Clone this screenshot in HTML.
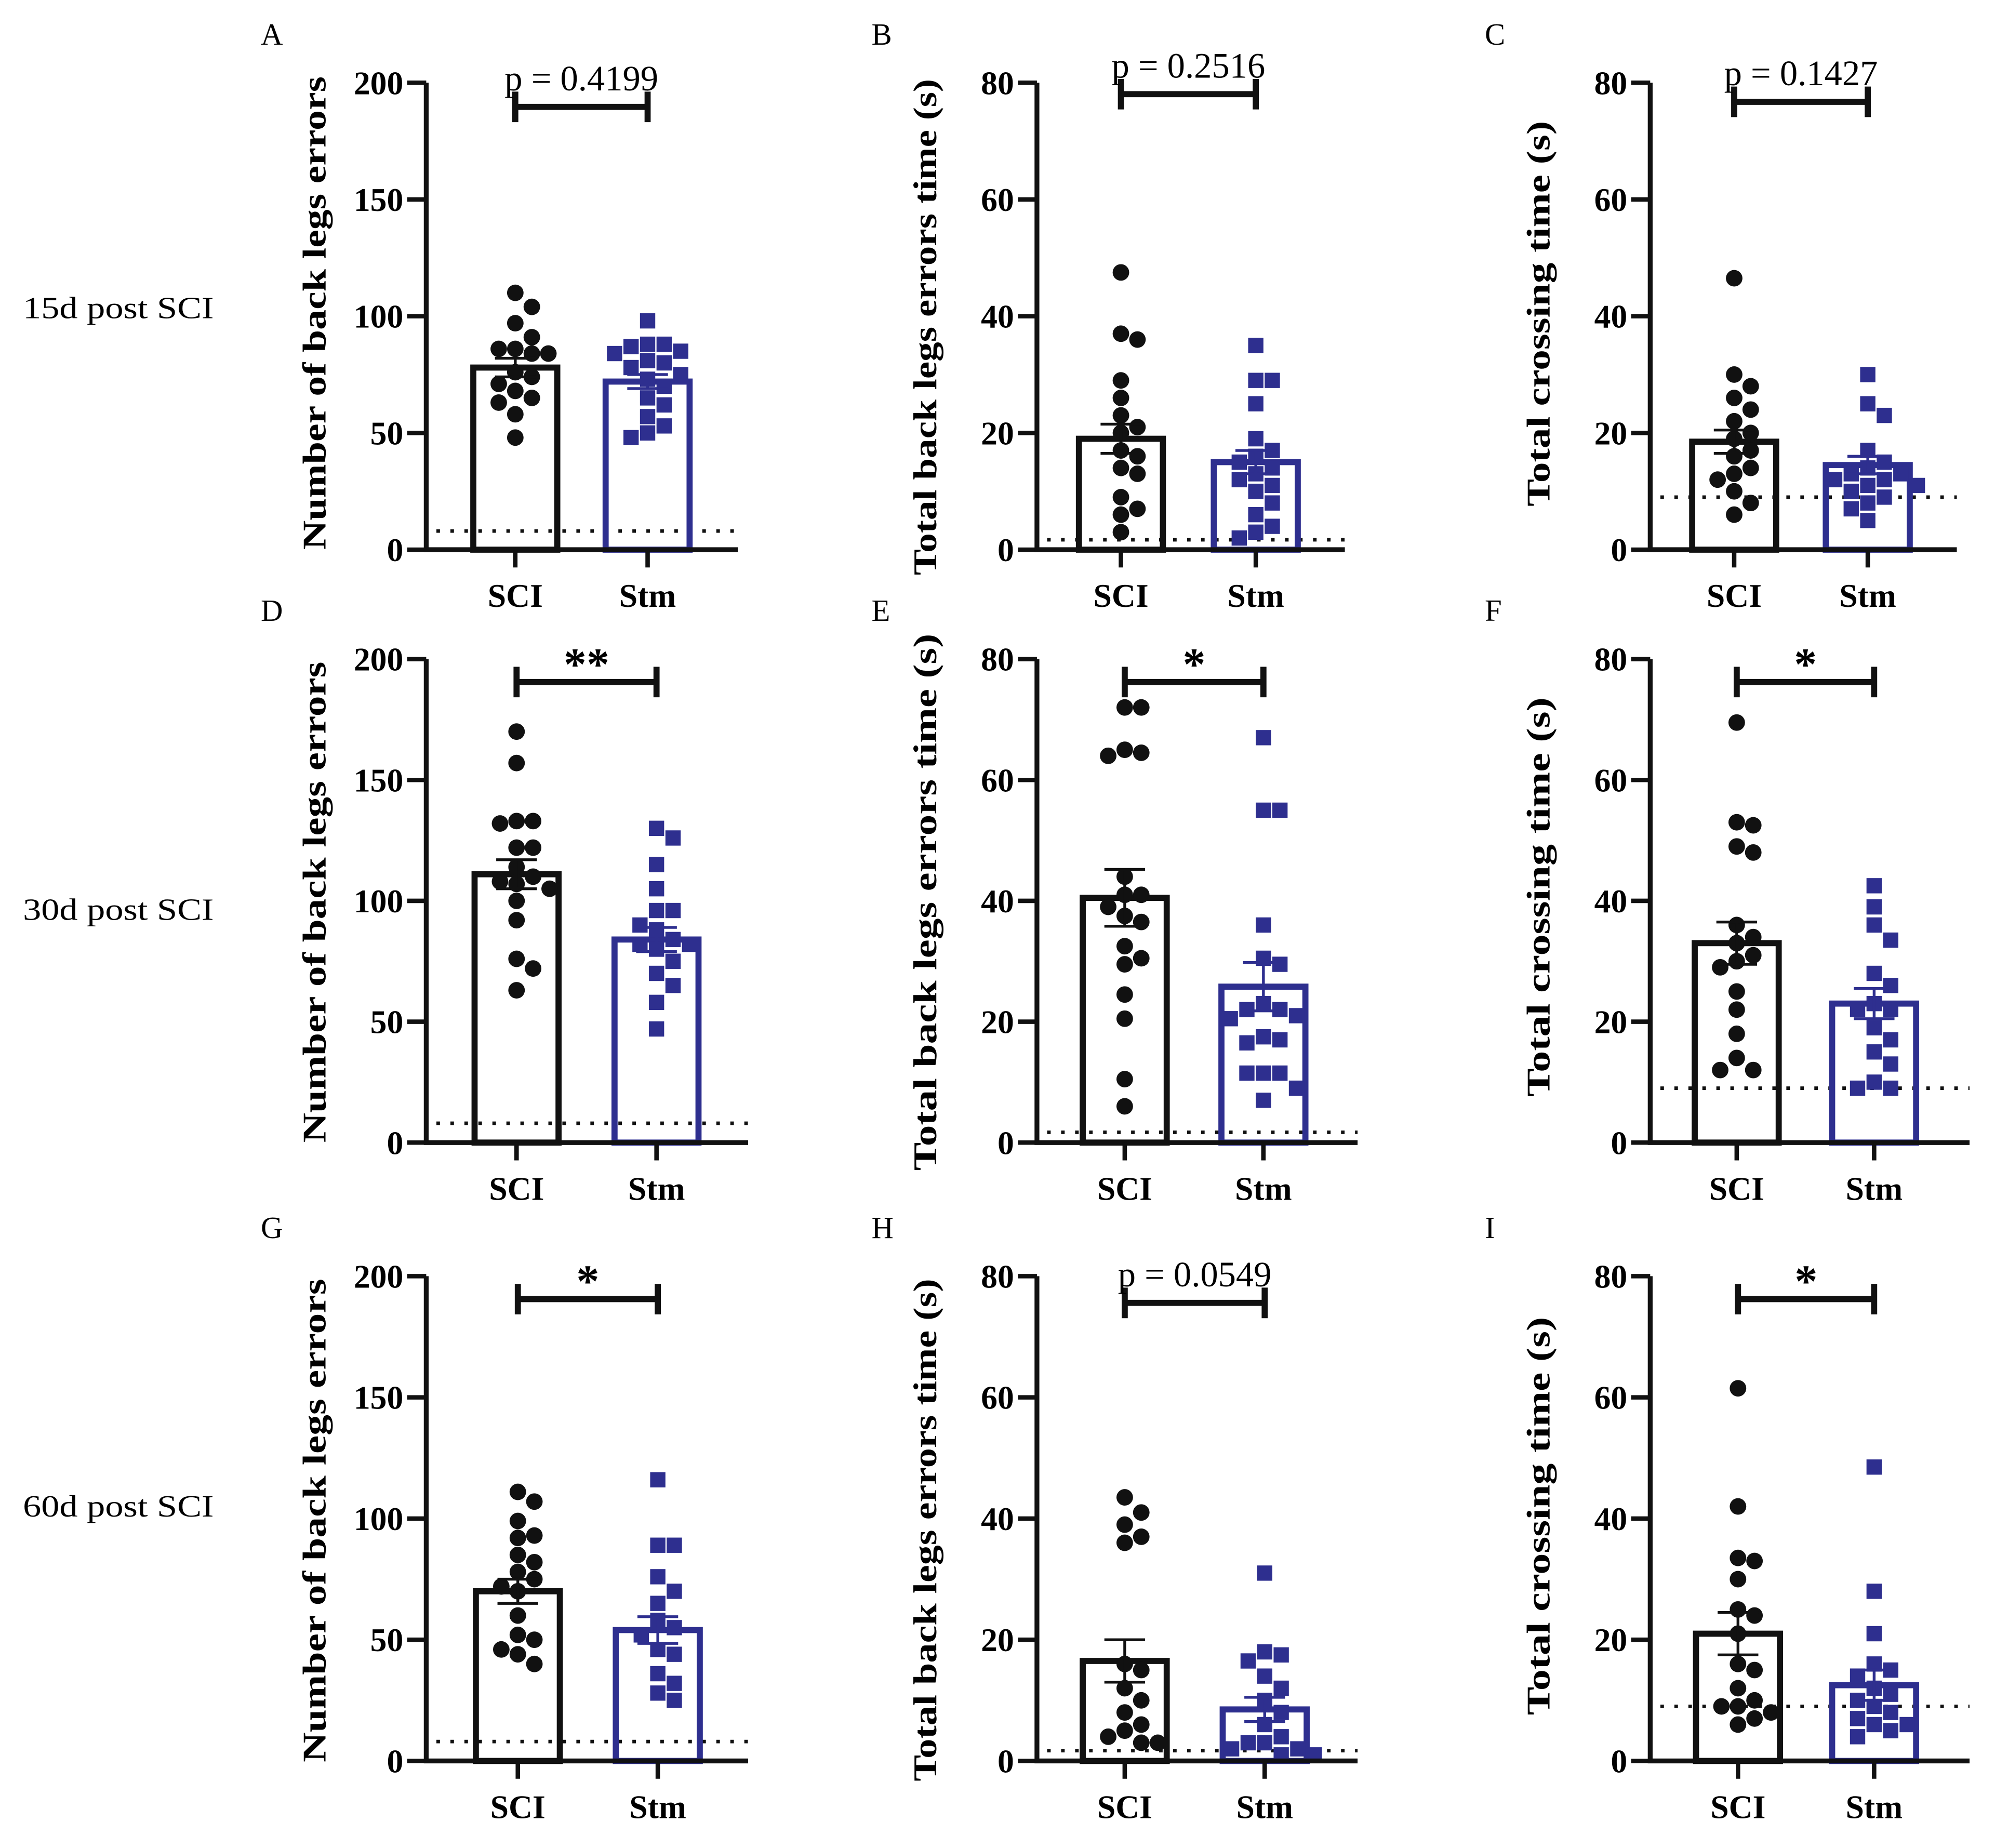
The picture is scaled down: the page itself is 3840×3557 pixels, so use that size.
<!DOCTYPE html>
<html><head><meta charset="utf-8"><style>
html,body{margin:0;padding:0;background:#fff;}
svg{display:block;}
text{font-family:"Liberation Serif",serif;}
</style></head><body>
<svg id="fig" width="3840" height="3557" viewBox="0 0 1568 1452.4" xmlns="http://www.w3.org/2000/svg">
<rect x="0" y="0" width="1568" height="1452.4" fill="#fff"/>
<text x="18" y="250" font-size="24" textLength="150" lengthAdjust="spacingAndGlyphs">15d post SCI</text>
<text x="18" y="723" font-size="24" textLength="150" lengthAdjust="spacingAndGlyphs">30d post SCI</text>
<text x="18" y="1192" font-size="24" textLength="150" lengthAdjust="spacingAndGlyphs">60d post SCI</text>
</svg>
<script>
// ---- data ----
const panelIds = ["A","B","C","D","E","F","G","H","I"];
const categories = ["SCI","Stm"];
const yMaxes = [200,80,80,200,80,80,200,80,80];
const tickStepsY = [50,20,20,50,20,20,50,20,20];
const sciMeans = [78,19,18.5,111,40.5,33,70,16.5,21];
const sciSems = [4,2.5,2,6,4.7,3.5,5,3.5,3.5];
const stmMeans = [72,15,14.5,84,25.8,23,54,8.5,12.5];
const stmSems = [3,2,1.5,5,4,2.5,5.5,2,2.5];
const baselines = [8,1.7,9,8,1.7,9,8,1.7,9];
const sigLabels = ["p = 0.4199","p = 0.2516","p = 0.1427","**","*","*","*","p = 0.0549","*"];
const yTitles = ["Number of back legs errors","Total back legs errors time (s)","Total crossing time (s)"];
const sciPoints = [
 [110,104,97,91,86,86,84,84,76,74,71,68,65,63,58,48],
 [47.5,37,36,29,26,23,21,20,17,16,14,13,9,7,6,3],
 [46.5,30,28,26,24,22,20,19,17,16,14,13,12,10,8,6],
 [170,157,133,133,132,122,122,114,110,108,107,105,100,92,76,72,63],
 [72,72,65,64.5,64,44,41,41,39,37.5,36.5,32.5,30.5,29.5,24.5,20.5,10.5,6],
 [69.5,53,52.5,49,48,36,34,33,31,30,29,25,22,18,14,12,12],
 [111,107,99,93,92,85,82,78,75,72,70,60,52,50,46,44,40],
 [43.5,41,39,37,36,16,15,12,10,8,6,5,4,3,3],
 [61.5,42,33.5,33,30,25,24,21,16,15,12,10,9,9,8,7,6]
];
const stmPoints = [
 [98,88,88,87,85,84,81,80,78,75,73,70,65,62,57,53,50,48],
 [35,29,29,25,19,17,16,15,14,13,12,11,10,8,6,4,3,2],
 [30,25,23,17,15,14,13,13,12,12,11,11,10,9,8,7,5],
 [130,126,115,105,96,96,90,88,84,82,82,80,75,70,65,58,47],
 [67,55,55,36,30.5,29.5,23,22,22,21,20.5,17.5,17,16.5,11.5,11.5,11.5,9,7],
 [42.5,39,36,33.5,28,26,23,22,22,19,17,15,13,10,9,9],
 [116,89,89,76,70,65,58,55,52,46,44,36,32,28,25],
 [31,18,17.5,16.5,14,12,10,8,6,4,3,3,2,2,1,1],
 [48.5,28,21,16,15,14,12,11,10,9,8,7,6,6,5,4]
];
// ---- layout ----
const rowTop=[65,518,1003], rowBot=[432,898,1384];
const colAxis=[335,815,1297];
const geom=[
 {sci:405,stm:509,end:580},{sci:881,stm:987,end:1057},{sci:1363,stm:1468,end:1538},
 {sci:406,stm:516,end:588},{sci:884,stm:993,end:1067},{sci:1365,stm:1473,end:1548},
 {sci:407,stm:517,end:588},{sci:884,stm:994,end:1067},{sci:1366,stm:1473,end:1548}
];
const titleSpan=[[60,432],[62,452],[95,398],[520,898],[498,920],[548,862],[1005,1385],[1005,1400],[1035,1348]];
const BLUE="#2e2f8f";
const NS="http://www.w3.org/2000/svg";
const svg=document.getElementById('fig');
function mk(tag,attrs,parent,txt){const e=document.createElementNS(NS,tag);for(const k in attrs)e.setAttribute(k,attrs[k]);if(txt!==undefined)e.textContent=txt;(parent||svg).appendChild(e);return e;}

panelIds.forEach((id,i)=>{
 const r=Math.floor(i/3), c=i%3, g=geom[i];
 const top=rowTop[r], bot=rowBot[r], ax=colAxis[c], ymax=yMaxes[i];
 const y=v=>bot-(v/ymax)*(bot-top);
 const grp=mk('g',{});
 
 
 const lt=mk('text',{x:ax-130,y:top-30,'font-size':24},grp,id);
 
 
 const sp=titleSpan[i], cy=(sp[0]+sp[1])/2, tx=ax-88;
 const yt=mk('text',{x:tx,y:cy,'font-size':26,'font-weight':'bold','text-anchor':'middle','dominant-baseline':'central',transform:`rotate(-90 ${tx} ${cy})`,textLength:sp[1]-sp[0],lengthAdjust:'spacingAndGlyphs'},grp,yTitles[c]);
 
 
 for(let v=0;v<=ymax;v+=tickStepsY[i]){
  const tk=mk('line',{x1:ax-15,x2:ax,y1:y(v),y2:y(v),stroke:'#111','stroke-width':3.5},grp);
  
  
  const tl=mk('text',{x:ax-18,y:y(v)+9,'font-size':26,'font-weight':'bold','text-anchor':'end'},grp,String(v));
  
  
 }
 const bl=mk('line',{x1:ax+8,x2:g.end,y1:y(baselines[i]),y2:y(baselines[i]),stroke:'#111','stroke-width':2.8,'stroke-dasharray':'2.8 8.2'},grp);
 
 
 [[g.sci,sciMeans[i],sciSems[i],'#111',sciPoints[i],'circle','sci'],[g.stm,stmMeans[i],stmSems[i],BLUE,stmPoints[i],'square','stm']].forEach(([cx,m,s,col,pts,shape,nm])=>{
  const w=70;
  const b=mk('rect',{x:cx-w/2+2,y:y(m),width:w-4,height:bot-y(m),fill:'none',stroke:col,'stroke-width':4.8},grp);
  
  
  const placed=[]; const rr=6.5;
  pts.forEach(v=>{
   const py=y(v); let off=0;
   const cand=[0,13,-13,26,-26,39,-39,7,-7,20,-20,33,-33];
   for(const o of cand){ if(placed.every(p=>Math.hypot(p[0]-o,p[1]-py)>=2*rr-1)){off=o;break;} off=o; }
   placed.push([off,py]);
   let e;
   if(shape==='circle') e=mk('circle',{cx:cx+off,cy:py,r:rr,fill:col},grp);
   else e=mk('rect',{x:cx+off-6,y:py-6,width:12,height:12,fill:col},grp);
   
   
  });
  const eb=mk('path',{d:`M${cx},${y(m-s)}V${y(m+s)}M${cx-16},${y(m+s)}H${cx+16}M${cx-16},${y(m-s)}H${cx+16}`,stroke:col,'stroke-width':2.2,fill:'none'},grp);
  
  
 });
 const axl=mk('path',{d:`M${ax},${top}V${bot}H${g.end}`,stroke:'#111','stroke-width':3.8,fill:'none'},grp);
 
 
 [[g.sci,categories[0]],[g.stm,categories[1]]].forEach(([cx,lab])=>{
  const xt=mk('line',{x1:cx,x2:cx,y1:bot,y2:bot+14,stroke:'#111','stroke-width':3.5},grp);
  
  
  const xl=mk('text',{x:cx,y:bot+45,'font-size':26,'font-weight':'bold','text-anchor':'middle'},grp,lab);
  
  
 });
 const isP=sigLabels[i].startsWith('p');
 const by=top+(isP?(r===0?[19,9,15][c]:21):18);
 const sb=mk('path',{d:`M${g.sci},${by-12}V${by+12}M${g.sci},${by}H${g.stm}M${g.stm},${by-12}V${by+12}`,stroke:'#111','stroke-width':4.8,fill:'none'},grp);
 
 
 const st=mk('text',{x:(g.sci+g.stm)/2,y:isP?by-13:by-2,'font-size':isP?28:36,'font-weight':isP?'normal':'bold','text-anchor':'middle'},grp,sigLabels[i]);
 
 
});
</script>
</body></html>
